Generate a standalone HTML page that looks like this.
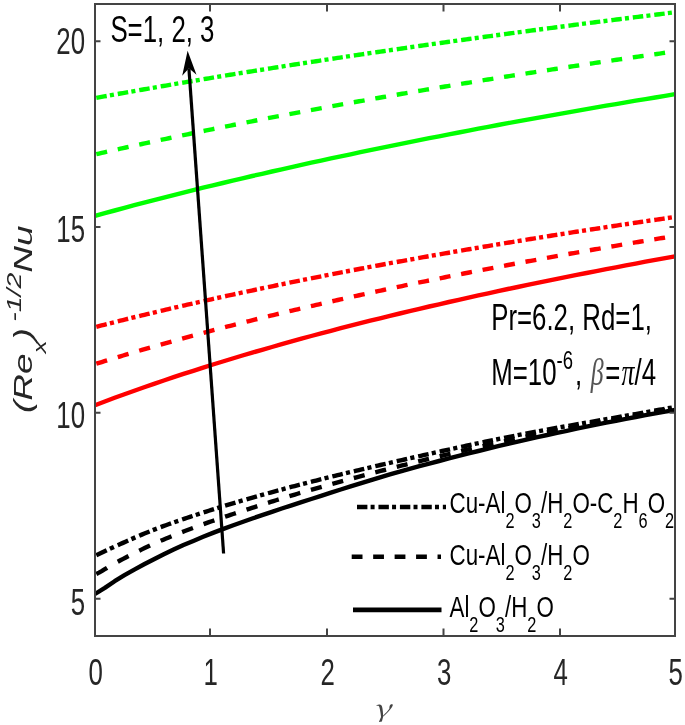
<!DOCTYPE html>
<html><head><meta charset="utf-8"><style>
html,body{margin:0;padding:0;background:#fff;}
svg{display:block;}
</style></head><body>
<svg width="685" height="725" viewBox="0 0 685 725" font-family="Liberation Sans, Arial, sans-serif"><rect width="685" height="725" fill="#fff"/><g fill="none" stroke-linejoin="round"><path d="M95.00,594.0 L104.83,587.9 L114.66,581.2 L124.49,575.2 L134.32,569.6 L144.15,564.3 L153.98,559.2 L163.81,554.3 L173.64,549.6 L183.47,545.1 L193.31,540.9 L203.14,536.8 L212.97,532.9 L222.80,529.1 L232.63,525.5 L242.46,522.0 L252.29,518.5 L262.12,515.1 L271.95,511.8 L281.78,508.5 L291.61,505.3 L301.44,502.1 L311.27,499.0 L321.10,495.8 L330.93,492.6 L340.76,489.5 L350.59,486.4 L360.42,483.3 L370.25,480.3 L380.08,477.3 L389.92,474.4 L399.75,471.6 L409.58,468.9 L419.41,466.2 L429.24,463.6 L439.07,461.0 L448.90,458.4 L458.73,455.9 L468.56,453.4 L478.39,451.0 L488.22,448.6 L498.05,446.2 L507.88,443.9 L517.71,441.6 L527.54,439.4 L537.37,437.2 L547.20,435.0 L557.03,432.9 L566.86,430.8 L576.69,428.7 L586.53,426.7 L596.36,424.7 L606.19,422.7 L616.02,420.8 L625.85,418.9 L635.68,417.0 L645.51,415.2 L655.34,413.4 L665.17,411.7 L675.00,410.0" stroke="#000000" stroke-width="4.4"/><path d="M96.30,573.95 L99.00,572.64 L101.70,571.12 L104.40,569.49 L107.10,567.81M117.76,561.74 L120.46,560.30 L123.16,558.87 L125.86,557.45 L128.56,556.05M139.22,550.69 L141.92,549.37 L144.62,548.08 L147.32,546.81 L150.02,545.55M160.68,540.82 L163.38,539.66 L166.08,538.53 L168.78,537.41 L171.48,536.30M182.14,532.08 L184.84,531.04 L187.54,530.01 L190.24,528.99 L192.94,527.99M203.60,524.09 L206.30,523.13 L209.00,522.18 L211.70,521.24 L214.40,520.31M225.06,516.70 L227.76,515.81 L230.46,514.91 L233.16,514.03 L235.86,513.14M246.52,509.69 L249.22,508.81 L251.92,507.94 L254.62,507.07 L257.32,506.20M267.98,502.81 L270.68,501.96 L273.38,501.11 L276.08,500.27 L278.78,499.43M289.44,496.17 L292.14,495.36 L294.84,494.55 L297.54,493.75 L300.24,492.96M310.90,489.88 L313.60,489.11 L316.30,488.34 L319.00,487.58 L321.70,486.81M332.36,483.84 L335.06,483.10 L337.76,482.35 L340.46,481.61 L343.16,480.88M353.82,478.00 L356.52,477.28 L359.22,476.56 L361.92,475.84 L364.62,475.13M375.28,472.34 L377.98,471.64 L380.68,470.94 L383.38,470.25 L386.08,469.56M396.74,466.85 L399.44,466.17 L402.14,465.49 L404.84,464.81 L407.54,464.14M418.20,461.49 L420.90,460.82 L423.60,460.16 L426.30,459.49 L429.00,458.83M439.66,456.24 L442.36,455.59 L445.06,454.94 L447.76,454.29 L450.46,453.65M461.12,451.12 L463.82,450.49 L466.52,449.85 L469.22,449.23 L471.92,448.60M482.58,446.15 L485.28,445.54 L487.98,444.93 L490.68,444.32 L493.38,443.71M504.04,441.35 L506.74,440.76 L509.44,440.17 L512.14,439.59 L514.84,439.01M525.50,436.75 L528.20,436.18 L530.90,435.62 L533.60,435.06 L536.30,434.51M546.96,432.35 L549.66,431.81 L552.36,431.27 L555.06,430.74 L557.76,430.21M568.42,428.13 L571.12,427.61 L573.82,427.09 L576.52,426.57 L579.22,426.05M589.88,424.03 L592.58,423.52 L595.28,423.01 L597.98,422.51 L600.68,422.00M611.34,420.01 L614.04,419.50 L616.74,419.00 L619.44,418.50 L622.14,417.99M632.80,416.03 L635.50,415.54 L638.20,415.04 L640.90,414.55 L643.60,414.07M654.26,412.15 L656.96,411.67 L659.66,411.20 L662.36,410.72 L665.06,410.24" stroke="#000000" stroke-width="4.4"/><path d="M96.30,555.23 L98.90,554.06 L101.50,552.84 L104.10,551.59 L106.70,550.33M109.90,548.80 L113.90,546.96M117.76,545.21 L120.36,544.04 L122.96,542.87 L125.56,541.70 L128.16,540.55M131.36,539.14 L135.36,537.39M139.22,535.73 L141.82,534.63 L144.42,533.55 L147.02,532.47 L149.62,531.42M152.82,530.15 L156.82,528.60M160.68,527.14 L163.28,526.17 L165.88,525.22 L168.48,524.28 L171.08,523.35M174.28,522.22 L178.28,520.83M182.14,519.51 L184.74,518.63 L187.34,517.76 L189.94,516.89 L192.54,516.03M195.74,514.98 L199.74,513.67M203.60,512.42 L206.20,511.59 L208.80,510.76 L211.40,509.94 L214.00,509.13M217.20,508.13 L221.20,506.90M225.06,505.72 L227.66,504.93 L230.26,504.15 L232.86,503.37 L235.46,502.60M238.66,501.65 L242.66,500.48M246.52,499.35 L249.12,498.60 L251.72,497.85 L254.32,497.10 L256.92,496.36M260.12,495.45 L264.12,494.33M267.98,493.25 L270.58,492.53 L273.18,491.81 L275.78,491.10 L278.38,490.39M281.58,489.52 L285.58,488.44M289.44,487.42 L292.04,486.73 L294.64,486.04 L297.24,485.36 L299.84,484.69M303.04,483.86 L307.04,482.83M310.90,481.85 L313.50,481.19 L316.10,480.53 L318.70,479.88 L321.30,479.23M324.50,478.43 L328.50,477.44M332.36,476.48 L334.96,475.84 L337.56,475.21 L340.16,474.57 L342.76,473.94M345.96,473.17 L349.96,472.20M353.82,471.28 L356.42,470.66 L359.02,470.04 L361.62,469.42 L364.22,468.80M367.42,468.05 L371.42,467.11M375.28,466.21 L377.88,465.60 L380.48,465.00 L383.08,464.40 L385.68,463.80M388.88,463.06 L392.88,462.14M396.74,461.26 L399.34,460.66 L401.94,460.07 L404.54,459.48 L407.14,458.89M410.34,458.16 L414.34,457.26M418.20,456.39 L420.80,455.80 L423.40,455.22 L426.00,454.63 L428.60,454.05M431.80,453.33 L435.80,452.44M439.66,451.58 L442.26,451.01 L444.86,450.43 L447.46,449.86 L450.06,449.29M453.26,448.59 L457.26,447.71M461.12,446.87 L463.72,446.31 L466.32,445.75 L468.92,445.19 L471.52,444.64M474.72,443.95 L478.72,443.10M482.58,442.29 L485.18,441.75 L487.78,441.20 L490.38,440.66 L492.98,440.13M496.18,439.47 L500.18,438.65M504.04,437.87 L506.64,437.34 L509.24,436.82 L511.84,436.30 L514.44,435.79M517.64,435.16 L521.64,434.38M525.50,433.63 L528.10,433.14 L530.70,432.64 L533.30,432.15 L535.90,431.67M539.10,431.07 L543.10,430.34M546.96,429.63 L549.56,429.16 L552.16,428.70 L554.76,428.23 L557.36,427.76M560.56,427.20 L564.56,426.49M568.42,425.81 L571.02,425.35 L573.62,424.90 L576.22,424.45 L578.82,423.99M582.02,423.44 L586.02,422.74M589.88,422.07 L592.48,421.62 L595.08,421.17 L597.68,420.71 L600.28,420.26M603.48,419.70 L607.48,419.00M611.34,418.32 L613.94,417.86 L616.54,417.40 L619.14,416.94 L621.74,416.48M624.94,415.91 L628.94,415.19M632.80,414.51 L635.40,414.04 L638.00,413.58 L640.60,413.12 L643.20,412.65M646.40,412.08 L650.40,411.37M654.26,410.69 L656.86,410.22 L659.46,409.76 L662.06,409.30 L664.66,408.84M667.86,408.27 L671.86,407.56" stroke="#000000" stroke-width="4.4"/><path d="M95.00,405.2 L104.83,401.5 L114.66,397.8 L124.49,394.2 L134.32,390.7 L144.15,387.2 L153.98,383.8 L163.81,380.5 L173.64,377.2 L183.47,373.9 L193.31,370.8 L203.14,367.6 L212.97,364.5 L222.80,361.5 L232.63,358.5 L242.46,355.5 L252.29,352.6 L262.12,349.8 L271.95,347.0 L281.78,344.2 L291.61,341.4 L301.44,338.7 L311.27,336.0 L321.10,333.4 L330.93,330.8 L340.76,328.2 L350.59,325.7 L360.42,323.2 L370.25,320.7 L380.08,318.3 L389.92,315.9 L399.75,313.5 L409.58,311.2 L419.41,308.8 L429.24,306.5 L439.07,304.3 L448.90,302.0 L458.73,299.8 L468.56,297.6 L478.39,295.4 L488.22,293.3 L498.05,291.1 L507.88,289.0 L517.71,287.0 L527.54,284.9 L537.37,282.9 L547.20,280.8 L557.03,278.8 L566.86,276.9 L576.69,274.9 L586.53,273.0 L596.36,271.1 L606.19,269.1 L616.02,267.3 L625.85,265.4 L635.68,263.6 L645.51,261.7 L655.34,259.9 L665.17,258.1 L675.00,256.3" stroke="#ff0000" stroke-width="4.4"/><path d="M96.30,363.72 L99.00,362.88 L101.70,362.04 L104.40,361.21 L107.10,360.38M117.76,357.13 L120.46,356.32 L123.16,355.51 L125.86,354.70 L128.56,353.90M139.22,350.76 L141.92,349.97 L144.62,349.19 L147.32,348.41 L150.02,347.63M160.68,344.59 L163.38,343.83 L166.08,343.07 L168.78,342.31 L171.48,341.56M182.14,338.61 L184.84,337.87 L187.54,337.14 L190.24,336.40 L192.94,335.67M203.60,332.81 L206.30,332.09 L209.00,331.38 L211.70,330.67 L214.40,329.96M225.06,327.18 L227.76,326.48 L230.46,325.79 L233.16,325.09 L235.86,324.40M246.52,321.70 L249.22,321.03 L251.92,320.35 L254.62,319.68 L257.32,319.01M267.98,316.38 L270.68,315.72 L273.38,315.06 L276.08,314.41 L278.78,313.75M289.44,311.20 L292.14,310.55 L294.84,309.91 L297.54,309.27 L300.24,308.64M310.90,306.15 L313.60,305.52 L316.30,304.90 L319.00,304.28 L321.70,303.66M332.36,301.23 L335.06,300.62 L337.76,300.01 L340.46,299.40 L343.16,298.80M353.82,296.43 L356.52,295.83 L359.22,295.24 L361.92,294.65 L364.62,294.06M375.28,291.74 L377.98,291.16 L380.68,290.58 L383.38,290.01 L386.08,289.43M396.74,287.17 L399.44,286.60 L402.14,286.04 L404.84,285.47 L407.54,284.91M418.20,282.70 L420.90,282.15 L423.60,281.59 L426.30,281.04 L429.00,280.49M439.66,278.34 L442.36,277.79 L445.06,277.25 L447.76,276.71 L450.46,276.17M461.12,274.06 L463.82,273.53 L466.52,273.00 L469.22,272.47 L471.92,271.95M482.58,269.88 L485.28,269.36 L487.98,268.85 L490.68,268.33 L493.38,267.81M504.04,265.79 L506.74,265.28 L509.44,264.77 L512.14,264.27 L514.84,263.76M525.50,261.78 L528.20,261.28 L530.90,260.79 L533.60,260.29 L536.30,259.80M546.96,257.86 L549.66,257.37 L552.36,256.88 L555.06,256.39 L557.76,255.91M568.42,254.01 L571.12,253.53 L573.82,253.05 L576.52,252.57 L579.22,252.10M589.88,250.23 L592.58,249.76 L595.28,249.29 L597.98,248.83 L600.68,248.36M611.34,246.53 L614.04,246.07 L616.74,245.61 L619.44,245.15 L622.14,244.69M632.80,242.90 L635.50,242.45 L638.20,241.99 L640.90,241.54 L643.60,241.09M654.26,239.33 L656.96,238.89 L659.66,238.44 L662.36,238.00 L665.06,237.56" stroke="#ff0000" stroke-width="4.4"/><path d="M96.30,326.77 L98.90,326.10 L101.50,325.44 L104.10,324.77 L106.70,324.11M109.90,323.31 L113.90,322.30M117.76,321.33 L120.36,320.68 L122.96,320.04 L125.56,319.40 L128.16,318.75M131.36,317.97 L135.36,316.99M139.22,316.05 L141.82,315.42 L144.42,314.79 L147.02,314.17 L149.62,313.54M152.82,312.78 L156.82,311.82M160.68,310.91 L163.28,310.30 L165.88,309.68 L168.48,309.08 L171.08,308.47M174.28,307.72 L178.28,306.80M182.14,305.90 L184.74,305.31 L187.34,304.71 L189.94,304.12 L192.54,303.53M195.74,302.80 L199.74,301.90M203.60,301.03 L206.20,300.45 L208.80,299.87 L211.40,299.29 L214.00,298.71M217.20,298.00 L221.20,297.12M225.06,296.27 L227.66,295.71 L230.26,295.14 L232.86,294.58 L235.46,294.01M238.66,293.32 L242.66,292.46M246.52,291.64 L249.12,291.08 L251.72,290.53 L254.32,289.98 L256.92,289.43M260.12,288.76 L264.12,287.92M267.98,287.11 L270.58,286.57 L273.18,286.03 L275.78,285.49 L278.38,284.95M281.58,284.30 L285.58,283.48M289.44,282.69 L292.04,282.16 L294.64,281.63 L297.24,281.11 L299.84,280.58M303.04,279.94 L307.04,279.14M310.90,278.37 L313.50,277.85 L316.10,277.33 L318.70,276.82 L321.30,276.31M324.50,275.68 L328.50,274.89M332.36,274.14 L334.96,273.64 L337.56,273.13 L340.16,272.63 L342.76,272.13M345.96,271.51 L349.96,270.74M353.82,270.01 L356.42,269.51 L359.02,269.02 L361.62,268.53 L364.22,268.04M367.42,267.43 L371.42,266.68M375.28,265.96 L377.88,265.48 L380.48,265.00 L383.08,264.51 L385.68,264.03M388.88,263.44 L392.88,262.71M396.74,262.00 L399.34,261.53 L401.94,261.05 L404.54,260.58 L407.14,260.11M410.34,259.53 L414.34,258.81M418.20,258.12 L420.80,257.66 L423.40,257.19 L426.00,256.73 L428.60,256.27M431.80,255.70 L435.80,255.00M439.66,254.32 L442.26,253.86 L444.86,253.41 L447.46,252.96 L450.06,252.50M453.26,251.95 L457.26,251.26M461.12,250.59 L463.72,250.15 L466.32,249.70 L468.92,249.25 L471.52,248.81M474.72,248.27 L478.72,247.59M482.58,246.94 L485.18,246.50 L487.78,246.06 L490.38,245.62 L492.98,245.19M496.18,244.65 L500.18,243.99M504.04,243.35 L506.64,242.92 L509.24,242.49 L511.84,242.06 L514.44,241.63M517.64,241.11 L521.64,240.46M525.50,239.83 L528.10,239.41 L530.70,238.99 L533.30,238.57 L535.90,238.15M539.10,237.63 L543.10,236.99M546.96,236.37 L549.56,235.96 L552.16,235.54 L554.76,235.13 L557.36,234.72M560.56,234.21 L564.56,233.58M568.42,232.98 L571.02,232.57 L573.62,232.16 L576.22,231.76 L578.82,231.35M582.02,230.86 L586.02,230.24M589.88,229.64 L592.48,229.24 L595.08,228.84 L597.68,228.45 L600.28,228.05M603.48,227.56 L607.48,226.95M611.34,226.37 L613.94,225.97 L616.54,225.58 L619.14,225.19 L621.74,224.80M624.94,224.32 L628.94,223.72M632.80,223.14 L635.40,222.76 L638.00,222.37 L640.60,221.99 L643.20,221.60M646.40,221.13 L650.40,220.54M654.26,219.98 L656.86,219.60 L659.46,219.22 L662.06,218.84 L664.66,218.46M667.86,218.00 L671.86,217.42" stroke="#ff0000" stroke-width="4.4"/><path d="M95.00,215.8 L104.83,213.1 L114.66,210.5 L124.49,207.8 L134.32,205.2 L144.15,202.6 L153.98,200.1 L163.81,197.6 L173.64,195.1 L183.47,192.6 L193.31,190.2 L203.14,187.7 L212.97,185.3 L222.80,183.0 L232.63,180.6 L242.46,178.3 L252.29,176.0 L262.12,173.8 L271.95,171.5 L281.78,169.3 L291.61,167.1 L301.44,164.9 L311.27,162.7 L321.10,160.6 L330.93,158.4 L340.76,156.3 L350.59,154.3 L360.42,152.2 L370.25,150.1 L380.08,148.1 L389.92,146.1 L399.75,144.1 L409.58,142.1 L419.41,140.2 L429.24,138.2 L439.07,136.3 L448.90,134.4 L458.73,132.5 L468.56,130.6 L478.39,128.7 L488.22,126.9 L498.05,125.0 L507.88,123.2 L517.71,121.4 L527.54,119.6 L537.37,117.8 L547.20,116.1 L557.03,114.3 L566.86,112.6 L576.69,110.8 L586.53,109.1 L596.36,107.4 L606.19,105.7 L616.02,104.1 L625.85,102.4 L635.68,100.7 L645.51,99.1 L655.34,97.5 L665.17,95.8 L675.00,94.2" stroke="#00ff00" stroke-width="4.4"/><path d="M96.30,154.17 L99.00,153.55 L101.70,152.94 L104.40,152.33 L107.10,151.72M117.76,149.32 L120.46,148.72 L123.16,148.12 L125.86,147.52 L128.56,146.93M139.22,144.59 L141.92,144.00 L144.62,143.41 L147.32,142.83 L150.02,142.24M160.68,139.95 L163.38,139.38 L166.08,138.80 L168.78,138.23 L171.48,137.66M182.14,135.42 L184.84,134.85 L187.54,134.29 L190.24,133.73 L192.94,133.17M203.60,130.98 L206.30,130.43 L209.00,129.87 L211.70,129.33 L214.40,128.78M225.06,126.63 L227.76,126.09 L230.46,125.55 L233.16,125.01 L235.86,124.47M246.52,122.37 L249.22,121.84 L251.92,121.31 L254.62,120.78 L257.32,120.25M267.98,118.19 L270.68,117.67 L273.38,117.15 L276.08,116.63 L278.78,116.12M289.44,114.09 L292.14,113.58 L294.84,113.07 L297.54,112.56 L300.24,112.06M310.90,110.07 L313.60,109.57 L316.30,109.07 L319.00,108.57 L321.70,108.07M332.36,106.12 L335.06,105.63 L337.76,105.14 L340.46,104.65 L343.16,104.17M353.82,102.25 L356.52,101.77 L359.22,101.29 L361.92,100.81 L364.62,100.33M375.28,98.45 L377.98,97.97 L380.68,97.50 L383.38,97.03 L386.08,96.56M396.74,94.71 L399.44,94.24 L402.14,93.78 L404.84,93.31 L407.54,92.85M418.20,91.03 L420.90,90.58 L423.60,90.12 L426.30,89.66 L429.00,89.21M439.66,87.42 L442.36,86.97 L445.06,86.52 L447.76,86.08 L450.46,85.63M461.12,83.87 L463.82,83.43 L466.52,82.99 L469.22,82.55 L471.92,82.11M482.58,80.38 L485.28,79.95 L487.98,79.51 L490.68,79.08 L493.38,78.65M504.04,76.95 L506.74,76.52 L509.44,76.09 L512.14,75.66 L514.84,75.24M525.50,73.57 L528.20,73.14 L530.90,72.72 L533.60,72.30 L536.30,71.88M546.96,70.24 L549.66,69.82 L552.36,69.41 L555.06,68.99 L557.76,68.58M568.42,66.96 L571.12,66.55 L573.82,66.14 L576.52,65.74 L579.22,65.33M589.88,63.73 L592.58,63.33 L595.28,62.93 L597.98,62.53 L600.68,62.13M611.34,60.56 L614.04,60.16 L616.74,59.76 L619.44,59.37 L622.14,58.97M632.80,57.42 L635.50,57.03 L638.20,56.64 L640.90,56.25 L643.60,55.86M654.26,54.34 L656.96,53.95 L659.66,53.57 L662.36,53.18 L665.06,52.80" stroke="#00ff00" stroke-width="4.4"/><path d="M96.30,97.84 L98.90,97.37 L101.50,96.89 L104.10,96.42 L106.70,95.96M109.90,95.38 L113.90,94.66M117.76,93.97 L120.36,93.51 L122.96,93.05 L125.56,92.58 L128.16,92.12M131.36,91.56 L135.36,90.85M139.22,90.18 L141.82,89.72 L144.42,89.27 L147.02,88.81 L149.62,88.36M152.82,87.80 L156.82,87.11M160.68,86.45 L163.28,86.00 L165.88,85.55 L168.48,85.11 L171.08,84.66M174.28,84.11 L178.28,83.43M182.14,82.78 L184.74,82.34 L187.34,81.90 L189.94,81.46 L192.54,81.02M195.74,80.49 L199.74,79.82M203.60,79.17 L206.20,78.74 L208.80,78.31 L211.40,77.88 L214.00,77.45M217.20,76.92 L221.20,76.26M225.06,75.63 L227.66,75.20 L230.26,74.78 L232.86,74.36 L235.46,73.93M238.66,73.41 L242.66,72.77M246.52,72.14 L249.12,71.72 L251.72,71.31 L254.32,70.89 L256.92,70.47M260.12,69.96 L264.12,69.33M267.98,68.71 L270.58,68.30 L273.18,67.89 L275.78,67.48 L278.38,67.07M281.58,66.57 L285.58,65.94M289.44,65.34 L292.04,64.93 L294.64,64.53 L297.24,64.12 L299.84,63.72M303.04,63.22 L307.04,62.61M310.90,62.01 L313.50,61.61 L316.10,61.21 L318.70,60.82 L321.30,60.42M324.50,59.93 L328.50,59.32M332.36,58.74 L334.96,58.35 L337.56,57.95 L340.16,57.56 L342.76,57.17M345.96,56.69 L349.96,56.09M353.82,55.51 L356.42,55.13 L359.02,54.74 L361.62,54.35 L364.22,53.97M367.42,53.50 L371.42,52.91M375.28,52.34 L377.88,51.96 L380.48,51.58 L383.08,51.20 L385.68,50.82M388.88,50.35 L392.88,49.77M396.74,49.21 L399.34,48.83 L401.94,48.46 L404.54,48.08 L407.14,47.71M410.34,47.25 L414.34,46.68M418.20,46.13 L420.80,45.75 L423.40,45.38 L426.00,45.02 L428.60,44.65M431.80,44.19 L435.80,43.63M439.66,43.09 L442.26,42.72 L444.86,42.35 L447.46,41.99 L450.06,41.63M453.26,41.18 L457.26,40.62M461.12,40.09 L463.72,39.73 L466.32,39.37 L468.92,39.01 L471.52,38.65M474.72,38.21 L478.72,37.66M482.58,37.13 L485.18,36.78 L487.78,36.42 L490.38,36.07 L492.98,35.71M496.18,35.28 L500.18,34.74M504.04,34.22 L506.64,33.87 L509.24,33.52 L511.84,33.17 L514.44,32.82M517.64,32.39 L521.64,31.85M525.50,31.34 L528.10,30.99 L530.70,30.65 L533.30,30.30 L535.90,29.96M539.10,29.54 L543.10,29.01M546.96,28.50 L549.56,28.16 L552.16,27.82 L554.76,27.48 L557.36,27.14M560.56,26.72 L564.56,26.20M568.42,25.70 L571.02,25.36 L573.62,25.03 L576.22,24.69 L578.82,24.36M582.02,23.94 L586.02,23.43M589.88,22.94 L592.48,22.60 L595.08,22.27 L597.68,21.94 L600.28,21.61M603.48,21.20 L607.48,20.69M611.34,20.21 L613.94,19.88 L616.54,19.55 L619.14,19.22 L621.74,18.90M624.94,18.49 L628.94,17.99M632.80,17.51 L635.40,17.19 L638.00,16.86 L640.60,16.54 L643.20,16.22M646.40,15.82 L650.40,15.33M654.26,14.85 L656.86,14.53 L659.46,14.21 L662.06,13.89 L664.66,13.57M667.86,13.18 L671.86,12.69" stroke="#00ff00" stroke-width="4.4"/></g><rect x="95" y="4" width="580" height="632" fill="none" stroke="#444444" stroke-width="2"/><path d="M210,636V628.5M210,4V11.5M327,636V628.5M327,4V11.5M443.5,636V628.5M443.5,4V11.5M560,636V628.5M560,4V11.5M95,41.2H100.5M675,41.2H669.5M95,227H100.5M675,227H669.5M95,412.7H100.5M675,412.7H669.5M95,598.7H100.5M675,598.7H669.5" stroke="#444444" stroke-width="2" fill="none"/><path d="M223.6,553.5L188.9,68.3" stroke="#000" stroke-width="3.2" fill="none"/><path d="M187.6,50.8L196.5,74.7L188.9,68.3L182.2,75.8Z" fill="#000"/><g fill="none"><path d="M357.00,507.00 L359.60,507.00 L362.20,507.00 L364.80,507.00 L367.40,507.00M370.60,507.00 L374.60,507.00M378.46,507.00 L381.06,507.00 L383.66,507.00 L386.26,507.00 L388.86,507.00M392.06,507.00 L396.06,507.00M399.92,507.00 L402.52,507.00 L405.12,507.00 L407.72,507.00 L410.32,507.00M413.52,507.00 L417.52,507.00M421.38,507.00 L423.98,507.00 L426.58,507.00 L429.18,507.00 L431.78,507.00M434.98,507.00 L438.98,507.00M442.84,507.00 L446.00,507.00" stroke="#000" stroke-width="4.6"/><path d="M351.70,556.70 L354.40,556.70 L357.10,556.70 L359.80,556.70 L362.50,556.70M373.16,556.70 L375.86,556.70 L378.56,556.70 L381.26,556.70 L383.96,556.70M394.62,556.70 L397.32,556.70 L400.02,556.70 L402.72,556.70 L405.42,556.70M416.08,556.70 L418.78,556.70 L421.48,556.70 L424.18,556.70 L426.88,556.70M437.54,556.70 L441.00,556.70" stroke="#000" stroke-width="4.6"/><path d="M353,609.9H441.5" stroke="#000" stroke-width="4.6"/></g><g font-family="Liberation Sans, Arial, sans-serif" fill="#262626"><text transform="translate(95.8,685) scale(0.698,1)" font-size="37" text-anchor="middle">0</text><text transform="translate(210.8,685) scale(0.698,1)" font-size="37" text-anchor="middle">1</text><text transform="translate(327.8,685) scale(0.698,1)" font-size="37" text-anchor="middle">2</text><text transform="translate(444.3,685) scale(0.698,1)" font-size="37" text-anchor="middle">3</text><text transform="translate(560.8,685) scale(0.698,1)" font-size="37" text-anchor="middle">4</text><text transform="translate(675.8,685) scale(0.698,1)" font-size="37" text-anchor="middle">5</text><text transform="translate(85,54.4) scale(0.698,1)" font-size="37" text-anchor="end">20</text><text transform="translate(85,241.7) scale(0.698,1)" font-size="37" text-anchor="end">15</text><text transform="translate(85,428) scale(0.698,1)" font-size="37" text-anchor="end">10</text><text transform="translate(85,614.8) scale(0.698,1)" font-size="37" text-anchor="end">5</text></g><g font-family="Liberation Sans, Arial, sans-serif" fill="#000"><text transform="translate(110.4,41.5) scale(0.698,1)" font-size="37">S=1, 2, 3</text><text transform="translate(491.2,330) scale(0.698,1)" font-size="37">Pr=6.2, Rd=1,</text><text transform="translate(491.2,385) scale(0.698,1)" font-size="37">M=10<tspan font-size="26.5" dy="-16.4" dx="0">-6</tspan><tspan dy="16.4" dx="2.9">,</tspan><tspan font-family="Liberation Serif" font-style="italic" fill="#555" dx="12.2">β</tspan><tspan dx="2.6">=</tspan><tspan font-family="Liberation Serif" font-style="italic" dx="1.6">π</tspan><tspan dx="0">/4</tspan></text><text transform="translate(449.5,513.3) scale(0.76,1)" font-size="29.4"><tspan>Cu-Al</tspan><tspan font-size="21.5" dy="14.7">2</tspan><tspan dy="-14.7">O</tspan><tspan font-size="21.5" dy="14.7">3</tspan><tspan dy="-14.7">/H</tspan><tspan font-size="21.5" dy="14.7">2</tspan><tspan dy="-14.7">O-C</tspan><tspan font-size="21.5" dy="14.7">2</tspan><tspan dy="-14.7">H</tspan><tspan font-size="21.5" dy="14.7">6</tspan><tspan dy="-14.7">O</tspan><tspan font-size="21.5" dy="14.7">2</tspan></text><text transform="translate(449.5,565) scale(0.76,1)" font-size="29.4"><tspan>Cu-Al</tspan><tspan font-size="21.5" dy="14.7">2</tspan><tspan dy="-14.7">O</tspan><tspan font-size="21.5" dy="14.7">3</tspan><tspan dy="-14.7">/H</tspan><tspan font-size="21.5" dy="14.7">2</tspan><tspan dy="-14.7">O</tspan></text><text transform="translate(449.5,616.9) scale(0.76,1)" font-size="29.4"><tspan>Al</tspan><tspan font-size="21.5" dy="14.7">2</tspan><tspan dy="-14.7">O</tspan><tspan font-size="21.5" dy="14.7">3</tspan><tspan dy="-14.7">/H</tspan><tspan font-size="21.5" dy="14.7">2</tspan><tspan dy="-14.7">O</tspan></text></g><text transform="translate(32.4,413) scale(0.698,1) rotate(-90)" font-size="37" font-style="italic" font-family="Liberation Sans, Arial, sans-serif" fill="#262626">(Re<tspan font-size="26.5" dy="19.5">x</tspan><tspan dy="-19.5">)</tspan><tspan font-size="28.5" dy="-16.4" dx="6">-1/2</tspan><tspan dy="16.4">Nu</tspan></text><text transform="translate(382,717) scale(1.39,1) skewX(-12)" font-size="24" font-family="Noto Serif CJK SC, Liberation Serif, serif" fill="#444" text-anchor="middle">γ</text></svg>
</body></html>
